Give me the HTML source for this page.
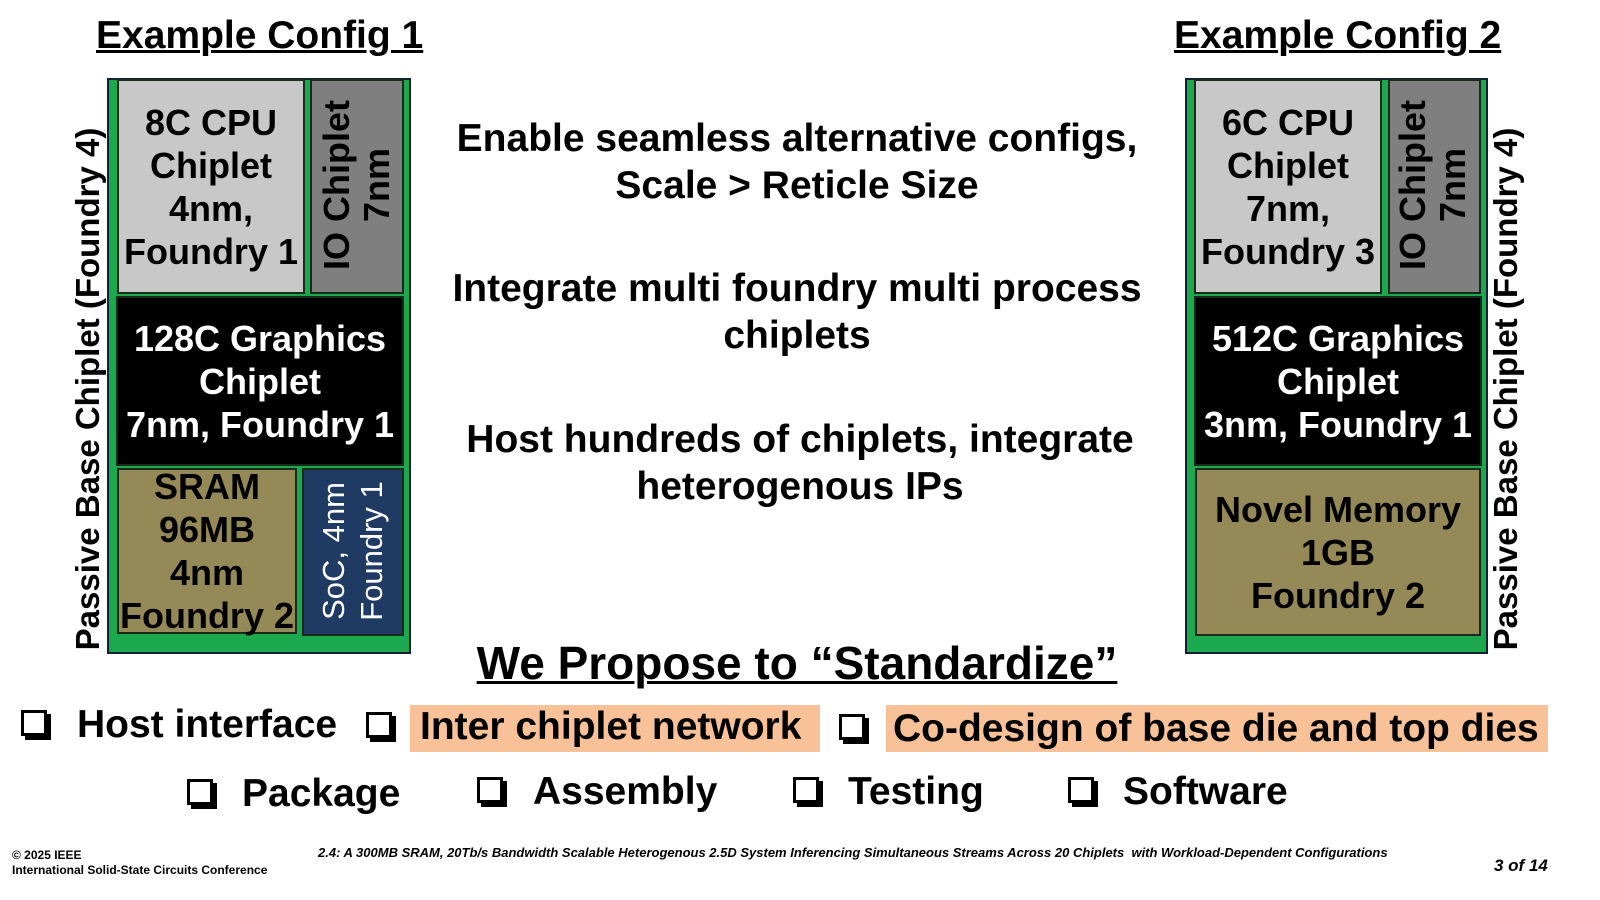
<!DOCTYPE html>
<html><head><meta charset="utf-8"><style>
body{margin:0;width:1600px;height:900px;background:#fff;position:relative;overflow:hidden;font-family:"Liberation Sans",Arial,sans-serif;font-weight:bold;color:#000}
.a{position:absolute}
.box{position:absolute;box-sizing:border-box;border:2px solid #1a2a1a;display:flex;align-items:center;justify-content:center;text-align:center}
.t{font-size:36px;line-height:43px}
.rot{position:absolute;transform:translate(-50%,-50%) rotate(-90deg);white-space:nowrap;text-align:center}
.cb{position:absolute;width:20px;height:20px;border:3px solid #000;box-shadow:4px 4px 0 #000;background:#fff}
.bl{position:absolute;font-size:39px;white-space:nowrap}
.hl{position:absolute;background:#f8c197}
</style></head><body>
<div class="a" style="left:96px;top:14px;font-size:39px;text-decoration:underline;text-decoration-thickness:3px">Example Config 1</div>
<div class="a" style="left:1174px;top:14px;font-size:39px;text-decoration:underline;text-decoration-thickness:3px">Example Config 2</div>

<!-- left config -->
<div class="box" style="left:107px;top:78px;width:304px;height:576px;background:#1ca84c;border-color:#123"></div>
<div class="box t" style="left:117px;top:79px;width:188px;height:215px;background:#c8c8c8">8C CPU<br>Chiplet<br>4nm,<br>Foundry 1</div>
<div class="box" style="left:310px;top:79px;width:94px;height:215px;background:#7f7f7f"></div>
<div class="rot t" style="left:357px;top:185px;line-height:40px">IO Chiplet<br>7nm</div>
<div class="box t" style="left:116px;top:296px;width:288px;height:170px;background:#000;color:#fff">128C Graphics<br>Chiplet<br>7nm, Foundry 1</div>
<div class="box t" style="left:117px;top:468px;width:180px;height:166px;background:#958a57">SRAM<br>96MB<br>4nm<br>Foundry 2</div>
<div class="box" style="left:302px;top:468px;width:102px;height:168px;background:#1f3a63"></div>
<div class="rot" style="left:353px;top:551px;color:#fff;font-weight:normal;font-size:31px;line-height:38px">SoC, 4nm<br>Foundry 1</div>
<div class="rot" style="left:88px;top:389px;font-size:33px">Passive Base Chiplet (Foundry 4)</div>

<!-- right config -->
<div class="box" style="left:1185px;top:78px;width:303px;height:576px;background:#1ca84c;border-color:#123"></div>
<div class="box t" style="left:1194px;top:79px;width:188px;height:215px;background:#c8c8c8">6C CPU<br>Chiplet<br>7nm,<br>Foundry 3</div>
<div class="box" style="left:1388px;top:79px;width:93px;height:215px;background:#7f7f7f"></div>
<div class="rot t" style="left:1433px;top:185px;line-height:40px">IO Chiplet<br>7nm</div>
<div class="box t" style="left:1194px;top:296px;width:288px;height:170px;background:#000;color:#fff">512C Graphics<br>Chiplet<br>3nm, Foundry 1</div>
<div class="box t" style="left:1195px;top:468px;width:286px;height:168px;background:#958a57">Novel Memory<br>1GB<br>Foundry 2</div>
<div class="rot" style="left:1506px;top:389px;font-size:33px">Passive Base Chiplet (Foundry 4)</div>

<!-- center text -->
<div class="a" style="left:380px;width:834px;top:115px;text-align:center;font-size:39px;line-height:47px">Enable seamless alternative configs,<br>Scale &gt; Reticle Size</div>
<div class="a" style="left:380px;width:834px;top:265px;text-align:center;font-size:39px;line-height:47px">Integrate multi foundry multi process<br>chiplets</div>
<div class="a" style="left:380px;width:840px;top:416px;text-align:center;font-size:39px;line-height:47px">Host hundreds of chiplets, integrate<br>heterogenous IPs</div>

<div class="a" style="left:380px;width:834px;top:636px;text-align:center;font-size:46px;text-decoration:underline;text-decoration-thickness:3px">We Propose to “Standardize”</div>

<!-- bullets -->
<div class="hl" style="left:410px;top:705px;width:410px;height:47px"></div>
<div class="hl" style="left:886px;top:705px;width:662px;height:47px"></div>
<div class="cb" style="left:21px;top:710px"></div><div class="bl" style="left:77px;top:703px">Host interface</div>
<div class="cb" style="left:366px;top:712px"></div><div class="bl" style="left:420px;top:705px">Inter chiplet network</div>
<div class="cb" style="left:839px;top:714px"></div><div class="bl" style="left:893px;top:707px">Co-design of base die and top dies</div>
<div class="cb" style="left:187px;top:779px"></div><div class="bl" style="left:242px;top:772px">Package</div>
<div class="cb" style="left:477px;top:777px"></div><div class="bl" style="left:533px;top:770px">Assembly</div>
<div class="cb" style="left:793px;top:777px"></div><div class="bl" style="left:848px;top:770px">Testing</div>
<div class="cb" style="left:1068px;top:777px"></div><div class="bl" style="left:1123px;top:770px">Software</div>

<!-- footer -->
<div class="a" style="left:12px;top:848px;font-size:12px;line-height:15px">© 2025 IEEE<br>International Solid-State Circuits Conference</div>
<div class="a" style="left:318px;top:845px;font-size:13px;font-style:italic;white-space:nowrap">2.4: A 300MB SRAM, 20Tb/s Bandwidth Scalable Heterogenous 2.5D System Inferencing Simultaneous Streams Across 20 Chiplets&nbsp; with Workload-Dependent Configurations</div>
<div class="a" style="left:1494px;top:856px;font-size:17px;font-style:italic">3 of 14</div>
</body></html>
